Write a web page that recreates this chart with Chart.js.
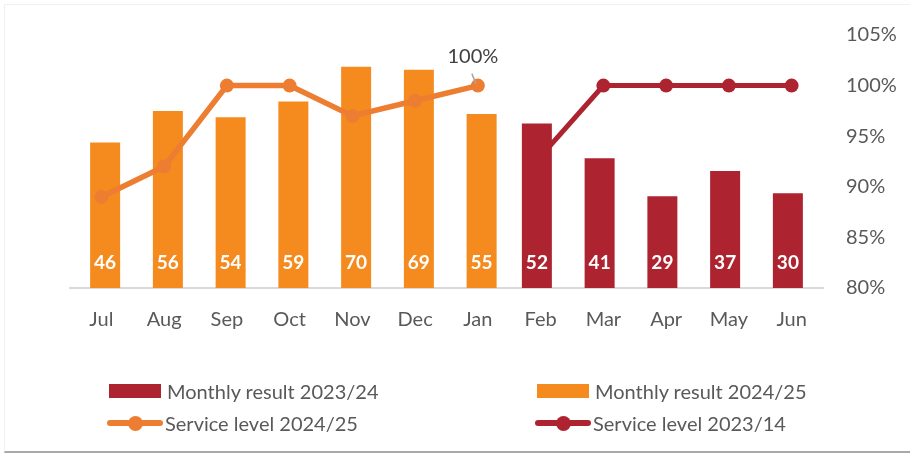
<!DOCTYPE html>
<html>
<head>
<meta charset="utf-8">
<script src="https://cdn.jsdelivr.net/npm/chart.js@4/dist/chart.umd.min.js"></script>
<style>
  html, body { margin: 0; padding: 0; background: #fff; }
  #wrap { position: relative; width: 910px; height: 454px; overflow: hidden; font-family: Lato, "Open Sans", sans-serif; }
  #frame { position: absolute; left: 4px; top: 4px; width: 920px; height: 446px;
           border-top: 1px solid #f1f1f1; border-left: 1px solid #f1f1f1; border-bottom: 2px solid #a9a9a9; }
  canvas { position: absolute; left: 0; top: 0; }
  .lg { position: absolute; font-size: 20px; color: #595959; line-height: 24px; white-space: nowrap; }
  .sw { position: absolute; width: 52px; height: 14px; }
  .ln { position: absolute; width: 56px; height: 6px; border-radius: 3px; }
  .dot { position: absolute; width: 15px; height: 15px; border-radius: 50%; }
</style>
</head>
<body>
<div id="wrap">
  <div id="frame"></div>
  <canvas id="c" width="910" height="454"></canvas>
  <div id="legend"></div>
</div>
<script>
// ---- data ----
const months = ["Jul","Aug","Sep","Oct","Nov","Dec","Jan","Feb","Mar","Apr","May","Jun"];
const result2324 = [null,null,null,null,null,null,null,52,41,29,37,30];
const result2425 = [46,56,54,59,70,69,55,null,null,null,null,null];
const service2425 = [89,92,100,100,97,98.5,100,null,null,null,null,null];
const service2324 = [null,null,null,null,null,null,null,93,100,100,100,100];
const percentTicks = [80,85,90,95,100,105];
const labelResult2324 = "Monthly result 2023/24";
const labelResult2425 = "Monthly result 2024/25";
const labelService2425 = "Service level 2024/25";
const labelService2324 = "Service level 2023/14";

const RED = "#AD2430";
const ORANGE_BAR = "#F58B1F";
const ORANGE_LINE = "#ED7D31";
const TXT = "#595959";
const FONT = "Lato, 'Open Sans', sans-serif";

const labelsPlugin = {
  id: 'labelsPlugin',
  afterDatasetsDraw(chart) {
    const ctx = chart.ctx;
    ctx.save();
    // bar value labels
    chart.data.datasets.forEach((ds, i) => {
      if (ds.type !== 'bar') return;
      const meta = chart.getDatasetMeta(i);
      meta.data.forEach((el, j) => {
        const v = ds.data[j];
        if (v === null || v === undefined) return;
        ctx.font = "bold 19px " + FONT;
        ctx.fillStyle = "#ffffff";
        ctx.textAlign = "center";
        ctx.textBaseline = "middle";
        ctx.fillText(String(v), el.x, el.base - 25);
      });
    });
    // 100% label on last 2024/25 service point
    const li = chart.data.datasets.findIndex(d => d.label === labelService2425);
    const lmeta = chart.getDatasetMeta(li);
    let last = -1;
    service2425.forEach((v, j) => { if (v !== null) last = j; });
    const p = lmeta.data[last];
    ctx.strokeStyle = "#A6A6A6";
    ctx.lineWidth = 1.5;
    ctx.beginPath();
    ctx.moveTo(p.x - 6, p.y - 12);
    ctx.lineTo(p.x - 2, p.y - 2);
    ctx.stroke();
    ctx.font = "20px " + FONT;
    ctx.fillStyle = "#404040";
    ctx.textAlign = "center";
    ctx.textBaseline = "middle";
    ctx.fillText(service2425[last] + "%", p.x - 5, p.y - 29);
    ctx.restore();
  }
};

new Chart(document.getElementById('c'), {
  data: {
    labels: months,
    datasets: [
      { type: 'bar', label: labelResult2324, data: result2324, backgroundColor: RED, yAxisID: 'y', order: 1 },
      { type: 'bar', label: labelResult2425, data: result2425, backgroundColor: ORANGE_BAR, yAxisID: 'y', order: 1 },
      { type: 'line', label: labelService2425, data: service2425, borderColor: ORANGE_LINE, backgroundColor: ORANGE_LINE,
        borderWidth: 5.5, pointRadius: 7, pointBorderWidth: 0, pointHoverRadius: 7, yAxisID: 'y1', order: 0, spanGaps: false },
      { type: 'line', label: labelService2324, data: service2324, borderColor: RED, backgroundColor: RED,
        borderWidth: 5, pointRadius: 7, pointBorderWidth: 0, pointHoverRadius: 7, yAxisID: 'y1', order: 2, spanGaps: false }
    ]
  },
  options: {
    responsive: false,
    animation: false,
    events: [],
    layout: { padding: { left: 70, top: 34, right: 0, bottom: 0 } },
    datasets: { bar: { categoryPercentage: 0.239, barPercentage: 4 } },
    plugins: { legend: { display: false }, tooltip: { enabled: false } },
    scales: {
      x: {
        grid: { display: false, drawTicks: false },
        border: { display: true, color: "#D9D9D9", width: 2 },
        ticks: { color: TXT, font: { family: FONT, size: 20 }, padding: 20, maxRotation: 0 },
        afterFit(s) { s.height = 166; }
      },
      y: { display: false, min: 0, max: 80 },
      y1: {
        position: 'right', min: 80, max: 105,
        grid: { display: false, drawTicks: false },
        border: { display: false },
        afterBuildTicks(s) { s.ticks = percentTicks.map(v => ({ value: v })); },
        ticks: { color: TXT, font: { family: FONT, size: 20 }, padding: 23, callback: v => v + "%" },
        afterFit(s) { s.width = 87; }
      }
    }
  },
  plugins: [labelsPlugin]
});

// ---- HTML legend ----
const legendItems = [
  { kind: 'bar', color: RED, text: labelResult2324, x: 109, y: 391 },
  { kind: 'bar', color: ORANGE_BAR, text: labelResult2425, x: 537, y: 391 },
  { kind: 'line', color: ORANGE_LINE, text: labelService2425, x: 107, y: 423 },
  { kind: 'line', color: RED, text: labelService2324, x: 535, y: 423 }
];
const lg = document.getElementById('legend');
legendItems.forEach(it => {
  if (it.kind === 'bar') {
    const s = document.createElement('div');
    s.className = 'sw';
    s.style.left = it.x + 'px'; s.style.top = (it.y - 7) + 'px'; s.style.background = it.color;
    lg.appendChild(s);
  } else {
    const l = document.createElement('div');
    l.className = 'ln';
    l.style.left = it.x + 'px'; l.style.top = (it.y - 3) + 'px'; l.style.background = it.color;
    lg.appendChild(l);
    const d = document.createElement('div');
    d.className = 'dot';
    d.style.left = (it.x + 28 - 7.5) + 'px'; d.style.top = (it.y - 7.5) + 'px'; d.style.background = it.color;
    lg.appendChild(d);
  }
  const t = document.createElement('div');
  t.className = 'lg';
  t.textContent = it.text;
  t.style.left = (it.x + 58) + 'px';
  t.style.top = (it.y - 12) + 'px';
  lg.appendChild(t);
});
</script>
</body>
</html>
